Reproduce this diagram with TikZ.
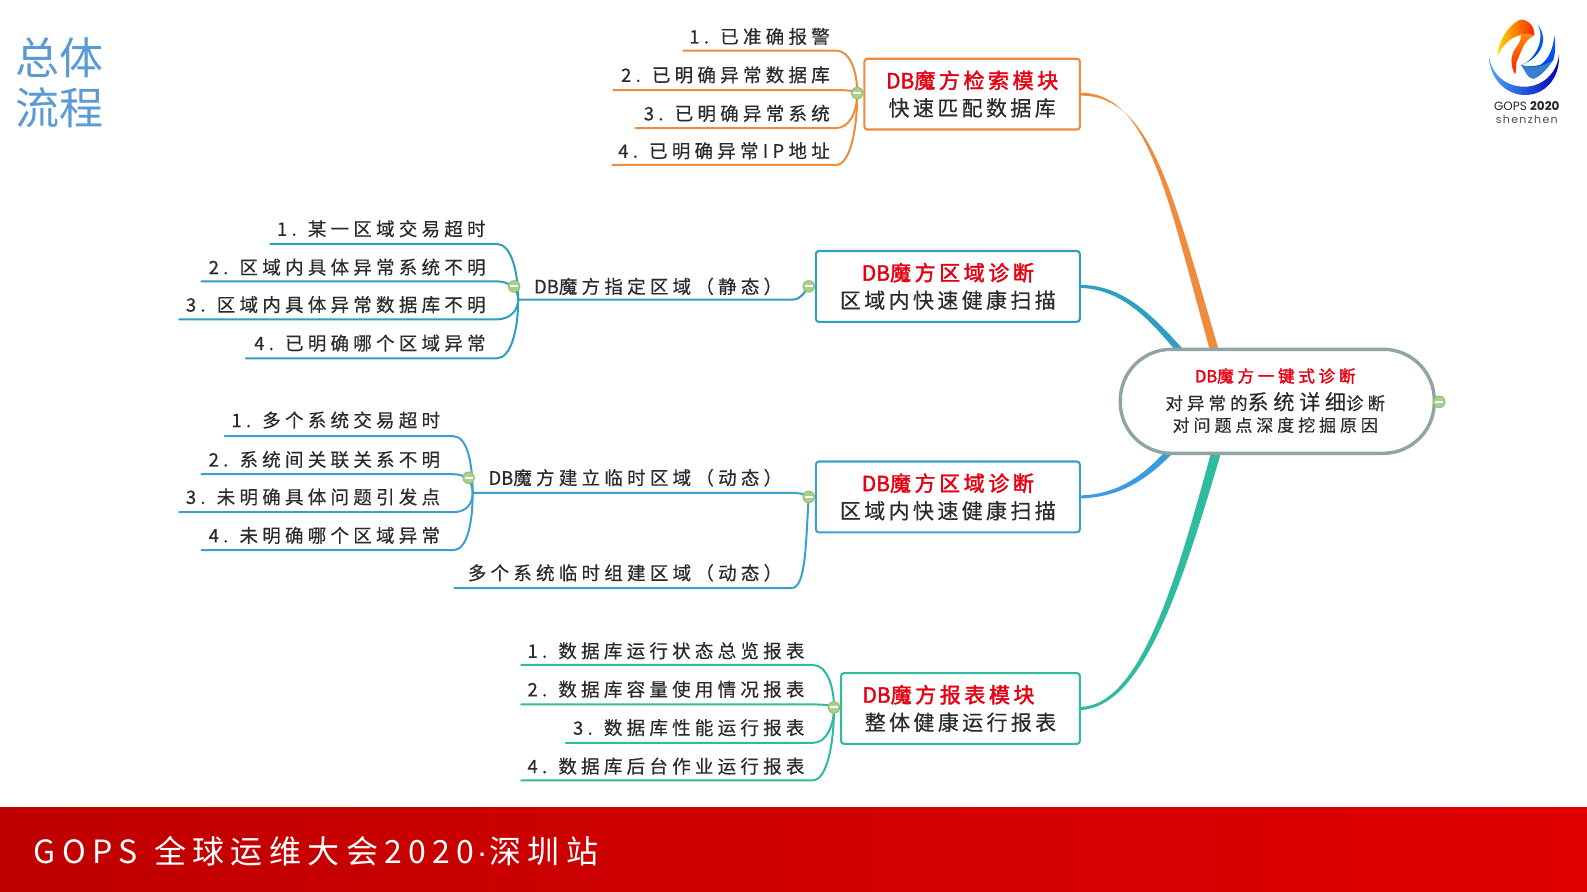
\documentclass[tikz,border=0pt]{standalone}
\usepackage{fontspec}
\usetikzlibrary{calc,backgrounds}
\setmainfont{Noto Sans CJK SC}
\newfontfamily\leaffont[LetterSpace=23,FakeBold=0.35]{Noto Sans CJK SC}
\newfontfamily\boxfont[LetterSpace=16,FakeBold=0.35]{Noto Sans CJK SC}
\newfontfamily\redfont[LetterSpace=17,FakeBold=1.8]{Noto Sans CJK SC}
\newfontfamily\rootredfont[LetterSpace=23,FakeBold=1.8]{Noto Sans CJK SC}
\newfontfamily\bannerfont[LetterSpace=20]{Noto Sans CJK SC}
\newfontfamily\plainfont[FakeBold=0.35]{Noto Sans CJK SC}
\newfontfamily\plainredfont[FakeBold=1.8]{Noto Sans CJK SC}
\newfontfamily\dotfont{Liberation Sans}
\newfontfamily\logofont{Poppins}
\newcommand\DBtag{{\plainfont DB}}
\newcommand\DBred{{\plainredfont DB}}
\definecolor{cOrange}{HTML}{EE8B3D}
\definecolor{cTeal}{HTML}{2E9FBF}
\definecolor{cBlue}{HTML}{3F9FCC}
\definecolor{cBlueRoot}{HTML}{3B9BE0}
\definecolor{cGreen}{HTML}{2EBBA0}
\definecolor{cRoot}{HTML}{8FA5A5}
\definecolor{cInk}{HTML}{2B2B2B}
\definecolor{cRed}{HTML}{E60012}
\definecolor{cTitle}{HTML}{5B9BD5}
\definecolor{collfill}{HTML}{A9D18E}
\definecolor{collbd}{HTML}{93BF72}
\tikzset{
  leaflabel/.style={inner sep=0pt,text=cInk,font=\leaffont\fontsize{18.5}{22}\selectfont},
  modbox/.style={rectangle,rounded corners=3pt,fill=white,line width=2.1pt,inner sep=0pt,align=center,text=cInk,
    font=\boxfont\fontsize{21}{27.5}\selectfont},
  branchline/.style={draw=bc,line width=2pt,line cap=round},
  coll/.style={circle,minimum size=11.5pt,inner sep=0pt,fill=white,draw=collbd,line width=1pt,
    path picture={\fill[collfill] (path picture bounding box.south west) rectangle (path picture bounding box.north east);
      \fill[white] ($(path picture bounding box.center)+(-4pt,-1pt)$) rectangle ($(path picture bounding box.center)+(4pt,1pt)$);}},
}
\newcommand\redline[1]{\textcolor{cRed}{\DBred\redfont #1}}
% name, junction, start x, line y, text y, text
\newcommand\leafitem[6]{%
  \coordinate (#1-s) at (#3,#4);
  \coordinate (#1-b) at (\bx,#4);
  \node[leaflabel,anchor=east] (#1) at (\tx,#5) {#6};
  \draw[branchline] (#1-s) -- (#1-b) .. controls ($(#1-b)+(14,0)$) and ($(#2)!0.5!(#2 |- #1-b)$) .. (#2);
}
\begin{document}
\begin{tikzpicture}[x=1.01212pt,y=-1.01212pt]
\useasboundingbox (0,0) rectangle (1568,881.3);
\shade[left color=black!25!red,right color=red!88!black] (0,798) rectangle (1568,881.3);
\node[inner sep=0pt,anchor=west,text=white,font=\bannerfont\fontsize{32}{36}\selectfont] (banner) at (33,841) {GOPS\hspace{3pt} 全球运维大会2020{\dotfont\hspace{2pt}·\hspace{2pt}}深圳站};
\node[inner sep=0pt,text=cTitle,align=left,font=\fontsize{44}{49.5}\selectfont] (title) at (58.5,82) {总体\\流程};

% root
\node[rectangle,rounded corners=51pt,minimum width=314pt,minimum height=104pt,draw=cRoot,line width=3.4pt,fill=white,inner sep=0pt,align=center,text=cInk] (root) at (1262,396.5) {};
\node[inner sep=0pt,text=cRed,font=\rootredfont\fontsize{16.5}{20}\selectfont] (rootA) at (1260,371.5) {\DBred 魔方一键式诊断};
\node[inner sep=0pt,text=cInk,font=\leaffont\fontsize{17.5}{20}\selectfont] (rootB) at (1260,397) {对异常的{\fontsize{21}{20}\selectfont 系统详细}诊断};
\node[inner sep=0pt,text=cInk,font=\leaffont\fontsize{17}{20}\selectfont] (rootC) at (1260,420) {对问题点深度挖掘原因};
\coordinate (r1a) at (1197,352); \coordinate (r1b) at (1206,352);
\coordinate (r2a) at (1166,352); \coordinate (r2b) at (1175,352);
\coordinate (r3a) at (1155,442); \coordinate (r3b) at (1164,442);
\coordinate (r4a) at (1198,442); \coordinate (r4b) at (1208,442);

% boxes
\node[modbox,draw=cOrange,minimum width=215.5pt,minimum height=70.8pt] (b1) at (960.5,93) {\redline{魔方检索模块}\\快速匹配数据库};
\node[modbox,draw=cTeal,minimum width=264pt,minimum height=70.8pt] (b2) at (936.5,283) {\redline{魔方区域诊断}\\区域内快速健康扫描};
\node[modbox,draw=cBlue,minimum width=264pt,minimum height=70.8pt] (b3) at (936.5,491) {\redline{魔方区域诊断}\\区域内快速健康扫描};
\node[modbox,draw=cGreen,minimum width=238.8pt,minimum height=70.8pt] (b4) at (949,700) {\redline{魔方报表模块}\hspace*{24pt}\\整体健康运行报表};

% main branches
\begin{pgfonlayer}{background}
\fill[white] (0,0) rectangle (1568,798);
\fill[cOrange] ($(b1.east)+(0,-1.5)$) .. controls (1135,93) and (1152,190) .. (r1a) -- (r1b) .. controls (1158,190) and (1138,95) .. ($(b1.east)+(0,1.5)$) -- cycle;
\fill[cTeal] ($(b2.east)+(0,-1.5)$) .. controls (1110,282) and (1138,310) .. (r2b) -- (r2a) .. controls (1135,314) and (1108,286) .. ($(b2.east)+(0,1.5)$) -- cycle;
\fill[cBlueRoot] ($(b3.east)+(0,-1.5)$) .. controls (1105,488) and (1130,470) .. (r3a) -- (r3b) .. controls (1133,476) and (1105,491) .. ($(b3.east)+(0,1.5)$) -- cycle;
\fill[cGreen] ($(b4.east)+(0,-1.5)$) .. controls (1128,696) and (1163,570) .. (r4a) -- (r4b) .. controls (1169,574) and (1131,698) .. ($(b4.east)+(0,1.5)$) -- cycle;
\end{pgfonlayer}

\node[coll] (cRootNode) at (1422,397) {};

% group 1
\colorlet{bc}{cOrange}
\coordinate (j1) at (847,92);
\def\tx{820}\def\bx{826}
\leafitem{a1}{j1}{675}{50}{36}{1. 已准确报警}
\leafitem{a2}{j1}{606}{89}{74}{2. 已明确异常数据库}
\leafitem{a3}{j1}{628}{126.5}{112}{3. 已明确异常系统}
\leafitem{a4}{j1}{605}{163}{149}{4. 已明确异常IP地址}
\node[coll] (c1) at (j1) {};

% group 2
\colorlet{bc}{cTeal}
\coordinate (j2) at (512,296);
\coordinate (c2pos) at (799,283);
\def\tx{480}\def\bx{491}
\leafitem{f1}{j2}{267}{241}{226}{1. 某一区域交易超时}
\leafitem{f2}{j2}{199}{278}{264}{2. 区域内具体异常系统不明}
\leafitem{f3}{j2}{177}{315.5}{301}{3. 区域内具体异常数据库不明}
\leafitem{f4}{j2}{243}{354}{339}{4. 已明确哪个区域异常}
\node[leaflabel,anchor=east] (s2) at (773,283) {\DBtag 魔方指定区域（静态）};
\coordinate (s2b) at (783,296);
\draw[branchline] (j2) -- (s2b) .. controls (792,296) and (795,288) .. (c2pos);
\node[coll] (c2a) at (508,283) {};
\node[coll] (c2) at (c2pos) {};

% group 3
\colorlet{bc}{cBlue}
\coordinate (j3) at (467,487);
\coordinate (c3pos) at (799,491);
\def\tx{435}\def\bx{448}
\leafitem{g1}{j3}{222}{431}{415}{1. 多个系统交易超时}
\leafitem{g2}{j3}{199}{468.5}{454}{2. 系统间关联关系不明}
\leafitem{g3}{j3}{177}{506}{491}{3. 未明确具体问题引发点}
\leafitem{g4}{j3}{199}{543.5}{529}{4. 未明确哪个区域异常}
\node[leaflabel,anchor=east] (s3) at (773,472) {\DBtag 魔方建立临时区域（动态）};
\node[leaflabel,anchor=east] (s4) at (773,566) {多个系统临时组建区域（动态）};
\coordinate (s3b) at (782,487);
\coordinate (s4s) at (449,581);
\coordinate (s4b) at (782,581);
\draw[branchline] (j3) -- (s3b) .. controls (790,487) and (795,488) .. (c3pos);
\draw[branchline] (s4s) -- (s4b) .. controls (796,581) and (796,540) .. (c3pos);
\node[coll] (c3a) at (463,472) {};
\node[coll] (c3) at (c3pos) {};

% group 4
\colorlet{bc}{cGreen}
\coordinate (j4) at (824,699);
\def\tx{795}\def\bx{803}
\leafitem{h1}{j4}{515}{657}{643}{1. 数据库运行状态总览报表}
\leafitem{h2}{j4}{515}{696}{681}{2. 数据库容量使用情况报表}
\leafitem{h3}{j4}{559}{734}{719}{3. 数据库性能运行报表}
\leafitem{h4}{j4}{515}{771}{757}{4. 数据库后台作业运行报表}
\node[coll] (c4) at (j4) {};

% logo
\begin{scope}[xshift=1485pt,yshift=-15pt,x=0.3333pt,y=-0.3333pt]
\shade[left color=blue!50!cyan!70,right color=blue!70!black]
  (12,125) .. controls (15,195) and (65,240) .. (120,240) .. controls (180,240) and (225,190) .. (222,120)
  .. controls (215,180) and (165,218) .. (115,215) .. controls (65,215) and (20,180) .. (12,125) -- cycle;
\shade[left color=yellow!70!orange,right color=red!75!orange]
  (38,122) .. controls (38,80) and (70,30) .. (105,14) .. controls (125,12) and (150,30) .. (148,62)
  .. controls (125,52) and (70,55) .. (38,122) -- cycle;
\shade[top color=orange!90!yellow,bottom color=red!75!orange]
  (148,62) .. controls (115,75) and (110,110) .. (95,140) .. controls (92,150) and (95,165) .. (90,178)
  .. controls (75,150) and (75,120) .. (95,95) .. controls (105,80) and (112,65) .. (105,55) -- cycle;
\shade[top color=blue!60!cyan,bottom color=blue!70!cyan!90!black]
  (158,28) .. controls (182,60) and (180,95) .. (150,125) .. controls (135,140) and (120,145) .. (108,150)
  .. controls (125,155) and (145,155) .. (165,150) .. controls (190,135) and (205,100) .. (208,62)
  .. controls (212,85) and (212,110) .. (205,135) .. controls (185,160) and (160,165) .. (140,160)
  .. controls (125,158) and (115,155) .. (108,150) .. controls (120,145) and (130,140) .. (140,128)
  .. controls (165,100) and (175,60) .. (158,28) -- cycle;
\fill[cyan!55!blue!85]
  (108,150) .. controls (120,165) and (125,190) .. (145,192) .. controls (165,185) and (185,165) .. (205,135)
  .. controls (185,150) and (165,155) .. (145,155) .. controls (130,155) and (118,153) .. (108,150) -- cycle;
\end{scope}
\node[inner sep=0pt,text=black!85,font=\logofont\fontsize{12}{14}\selectfont] (logoA) at (1508.5,104.5) {GOPS \textbf{2020}};
\node[inner sep=0pt,text=black!70,font=\logofont\fontsize{11}{13}\selectfont] (logoB) at (1508.5,118.5) {\addfontfeature{LetterSpace=12}shenzhen};
\end{tikzpicture}
\end{document}
